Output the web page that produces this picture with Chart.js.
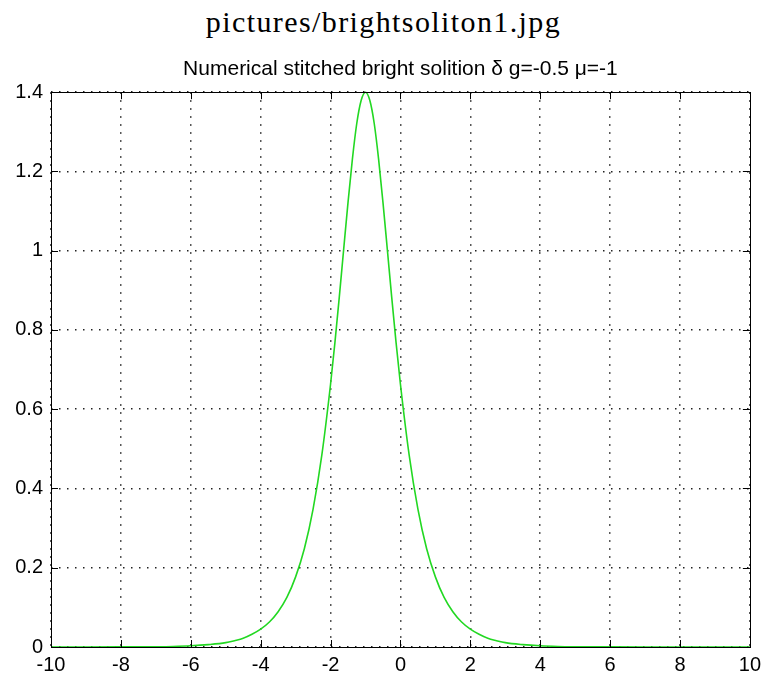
<!DOCTYPE html>
<html lang="en">
<head>
    <meta charset="UTF-8">
    <title>Bright soliton</title>
    <script src="https://cdn.jsdelivr.net/npm/chart.js"></script>
    <style>
        body { margin: 0; background: #fff; }
        #fileName {
            position: absolute; top: 7px; left: 0; width: 767px;
            text-align: center; font-family: 'Liberation Serif', serif;
            font-size: 30px; line-height: 30px; letter-spacing: 1.4px; color: #000;
        }
        #wrap { position: absolute; top: 0; left: 0; width: 767px; height: 681px; }
    </style>
</head>
<body>
    <div id="fileName">pictures/brightsoliton1.jpg</div>
    <div id="wrap"><canvas id="solitonChart" width="767" height="681"></canvas></div>

    <script>
      // values
      const xValues = [-10, -9, -8, -7, -6.5, -6, -5.5, -5, -4.75, -4.5, -4.25, -4, -3.75, -3.5, -3.25, -3,
        -2.75, -2.5, -2.25, -2, -1.875, -1.75, -1.625, -1.5, -1.375, -1.25, -1.125, -1,
        -0.875, -0.75, -0.625, -0.5, -0.375, -0.25, -0.125, 0, 0.25, 0.5, 0.75, 1, 1.25, 1.5, 1.75, 2,
        2.25, 2.5, 2.75, 3, 3.5, 4, 4.5, 5, 6, 7, 8, 9, 10];
      const psiValues = [0, 0, 0.0002, 0.0007, 0.0014, 0.003, 0.006, 0.011, 0.016, 0.022, 0.032, 0.045,
        0.063, 0.089, 0.125, 0.177, 0.248, 0.348, 0.484, 0.663, 0.768, 0.883, 1.003, 1.122, 1.231, 1.321, 1.379, 1.4,
        1.379, 1.321, 1.231, 1.122, 1.003, 0.883, 0.768, 0.663, 0.484, 0.348, 0.248, 0.177, 0.125, 0.089, 0.063, 0.045,
        0.032, 0.022, 0.016, 0.011, 0.006, 0.003, 0.0014, 0.0007, 0.0002, 0, 0, 0, 0];
      const xTickLabels = ['-10', '-8', '-6', '-4', '-2', '0', '2', '4', '6', '8', '10'];
      const yTickLabels = ['0', '0.2', '0.4', '0.6', '0.8', '1', '1.2', '1.4'];

      const points = xValues.map((x, i) => ({ x: x, y: psiValues[i] }));

      // MATLAB style box with inward tick marks on all four sides
      const boxPlugin = {
        id: 'boxPlugin',
        afterDraw(chart) {
          const ctx = chart.ctx;
          const a = chart.chartArea;
          const xs = chart.scales.x, ys = chart.scales.y;
          const len = 7;
          ctx.save();
          ctx.strokeStyle = '#000';
          ctx.lineWidth = 1;
          ctx.beginPath();
          xs.ticks.forEach(t => {
            const px = Math.round(xs.getPixelForValue(t.value)) + 0.5;
            ctx.moveTo(px, a.bottom); ctx.lineTo(px, a.bottom - len);
            ctx.moveTo(px, a.top); ctx.lineTo(px, a.top + len);
          });
          ys.ticks.forEach(t => {
            const py = Math.round(ys.getPixelForValue(t.value)) + 0.5;
            ctx.moveTo(a.left, py); ctx.lineTo(a.left + len, py);
            ctx.moveTo(a.right, py); ctx.lineTo(a.right - len, py);
          });
          ctx.stroke();
          ctx.strokeRect(Math.round(a.left) + 0.5, Math.round(a.top) + 0.5,
            Math.round(a.right - a.left), Math.round(a.bottom - a.top));
          ctx.restore();
        }
      };

      const gridStyle = {
        color: '#222',
        lineWidth: 1.5,
        drawTicks: false
      };
      const dotted = { display: false, dash: [1.5, 6.5] };

      new Chart(document.getElementById('solitonChart'), {
        type: 'line',
        data: {
          datasets: [{
            data: points,
            borderColor: '#22d822',
            borderWidth: 1.6,
            pointRadius: 0,
            fill: false,
            cubicInterpolationMode: 'monotone',
            clip: false
          }]
        },
        options: {
          responsive: false,
          animation: false,
          layout: { padding: { top: 50, right: 13, bottom: 0, left: 0 } },
          plugins: {
            legend: { display: false },
            tooltip: { enabled: false },
            title: {
              display: true,
              fullSize: false,
              text: 'Numerical stitched bright solition \u03b4 g=-0.5 \u03bc=-1',
              color: '#000',
              font: { family: "'Liberation Sans', Arial, sans-serif", size: 21, weight: 'normal' },
              padding: { top: 7, bottom: 10 }
            }
          },
          scales: {
            x: {
              type: 'linear',
              min: -10,
              max: 10,
              border: dotted,
              grid: gridStyle,
              ticks: {
                stepSize: 2,
                color: '#000',
                padding: 6,
                maxRotation: 0,
                font: { family: "'Liberation Sans', Arial, sans-serif", size: 20 },
                callback: (v, i) => xTickLabels[i]
              },
              afterFit: s => { s.height = 34; }
            },
            y: {
              type: 'linear',
              min: 0,
              max: 1.4,
              border: dotted,
              grid: gridStyle,
              ticks: {
                stepSize: 0.2,
                color: '#000',
                padding: 8,
                font: { family: "'Liberation Sans', Arial, sans-serif", size: 20 },
                callback: (v, i) => yTickLabels[i]
              },
              afterFit: s => { s.height = undefined; s.width = 51; }
            }
          }
        },
        plugins: [boxPlugin]
      });
    </script>
</body>
</html>
